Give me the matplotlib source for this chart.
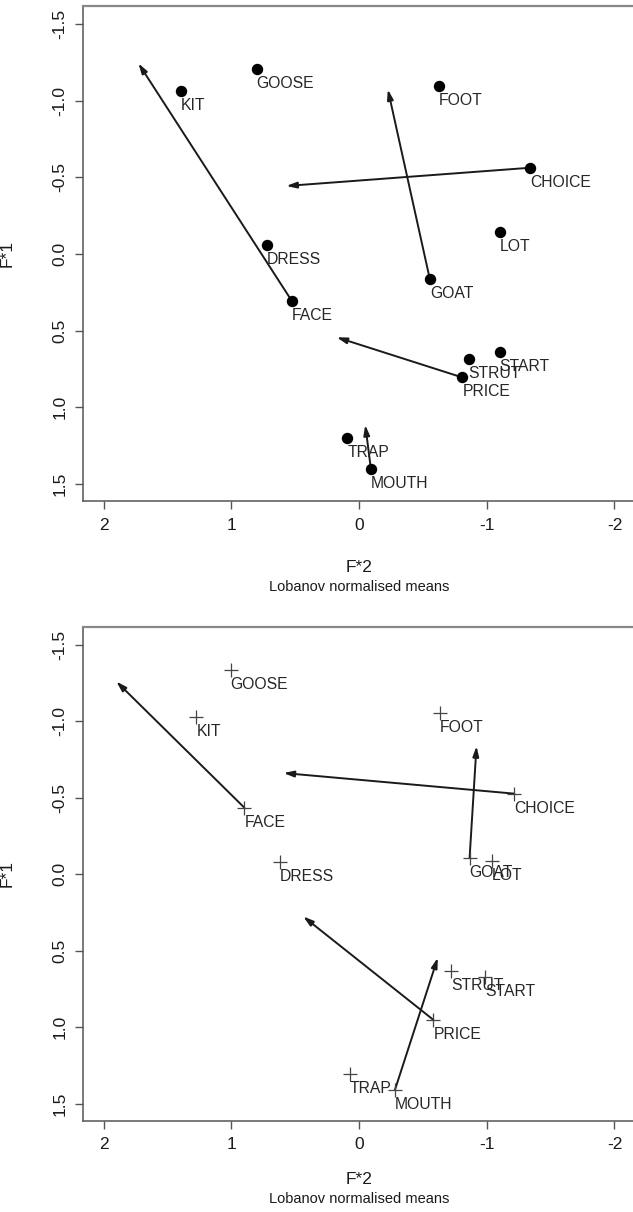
import matplotlib
matplotlib.use("Agg")
import matplotlib.pyplot as plt

plt.rcParams['font.family'] = ['Liberation Sans', 'DejaVu Sans']

words = ["KIT", "GOOSE", "FOOT", "CHOICE", "LOT", "DRESS", "GOAT", "FACE",
         "STRUT", "START", "PRICE", "TRAP", "MOUTH"]

# Panel 1 (filled dots)
f2_top = [1.395, 0.802, -0.623, -1.342, -1.105, 0.720, -0.554, 0.525,
          -0.859, -1.102, -0.809, 0.090, -0.093]
f1_top = [-1.065, -1.207, -1.094, -0.563, -0.141, -0.059, 0.161, 0.307,
          0.683, 0.637, 0.805, 1.202, 1.400]
# diphthong trajectories: start word, end (F*2, F*1)
arr_top_from = ["FACE", "GOAT", "CHOICE", "PRICE", "MOUTH"]
arr_top_end_f2 = [1.727, -0.226, 0.569, 0.175, -0.049]
arr_top_end_f1 = [-1.244, -1.074, -0.444, 0.543, 1.115]

# Panel 2 (crosses)
f2_bot = [1.273, 1.005, -0.636, -1.216, -1.040, 0.620, -0.866, 0.897,
          -0.724, -0.986, -0.582, 0.071, -0.282]
f1_bot = [-1.029, -1.334, -1.055, -0.528, -0.087, -0.078, -0.109, -0.436,
          0.632, 0.672, 0.951, 1.304, 1.408]
arr_bot_from = ["FACE", "CHOICE", "GOAT", "PRICE", "MOUTH"]
arr_bot_end_f2 = [1.900, 0.591, -0.920, 0.437, -0.617]
arr_bot_end_f1 = [-1.262, -0.663, -0.839, 0.275, 0.545]

xticks = [2, 1, 0, -1, -2]
yticks = [-1.5, -1.0, -0.5, 0.0, 0.5, 1.0, 1.5]

fig = plt.figure(figsize=(6.33, 12.12), dpi=100)
W, H = 633, 1212

def make_ax(top_px, bottom_px):
    left_px, right_px = 82.7, 640
    return fig.add_axes([left_px / W, 1 - bottom_px / H,
                         (right_px - left_px) / W, (bottom_px - top_px) / H])

panels = [
    (make_ax(6, 501), f2_top, f1_top, arr_top_from, arr_top_end_f2, arr_top_end_f1, 'dot', (2.163, -2.20), (1.611, -1.618)),
    (make_ax(626.7, 1120.7), f2_bot, f1_bot, arr_bot_from, arr_bot_end_f2, arr_bot_end_f1, 'cross', (2.163, -2.20), (1.611, -1.620)),
]

for ax, xs, ys, afrom, aex, aey, mk, xl, yl in panels:
    ax.set_xlim(*xl)
    ax.set_ylim(*yl)
    if mk == 'dot':
        ax.plot(xs, ys, 'o', color='black', markersize=7.2, linestyle='none', zorder=3)
    else:
        ax.plot(xs, ys, '+', color='#444444', markersize=10, markeredgewidth=0.9,
                linestyle='none', zorder=3)
    for w, x, y in zip(words, xs, ys):
        ax.annotate(w, (x, y), xytext=(0, -5), textcoords='offset points',
                    ha='left', va='top', fontsize=11.3, color='#262626', zorder=4)
    for w, ex, ey in zip(afrom, aex, aey):
        i = words.index(w)
        ax.annotate('', xy=(ex, ey), xytext=(xs[i], ys[i]),
                    arrowprops=dict(arrowstyle='-|>,head_length=0.6,head_width=0.18',
                                    color='#1a1a1a', lw=1.4, shrinkA=0, shrinkB=0,
                                    mutation_scale=10), zorder=2)
    ax.set_xticks(xticks)
    ax.set_xticklabels([str(t) for t in xticks])
    ax.set_yticks(yticks)
    ax.set_yticklabels([f"{t:.1f}" for t in yticks], rotation=90, va='center')
    ax.tick_params(axis='both', direction='out', length=6, width=1, color='#555555',
                   labelsize=12.5, labelcolor='#1a1a1a', pad=6)
    ax.tick_params(axis='y', pad=5)
    for s in ['left', 'bottom', 'top']:
        ax.spines[s].set_color('#555555')
        ax.spines[s].set_linewidth(1.1)
    ax.spines['top'].set_color('#888888')
    ax.spines['top'].set_linewidth(1.6)
    ax.spines['right'].set_visible(False)
    ax.set_xlabel("F*2\n", fontsize=12.5, color='#1a1a1a', labelpad=12)
    ax.set_ylabel("F*1", fontsize=12.5, color='#1a1a1a', labelpad=10)

for top_y, lab_y in [(568, 587), (1180, 1199)]:
    fig.text(359.5 / W, 1 - lab_y / H, "Lobanov normalised means", ha='center',
             va='center', fontsize=10.5, color='#1a1a1a')

for ax in [panels[0][0], panels[1][0]]:
    ax.xaxis.label.set_text("F*2")

# place x labels explicitly to match the reference
panels[0][0].xaxis.set_label_coords((359.5 - 82.7) / (640 - 82.7), -(568 - 501) / (501 - 6))
panels[1][0].xaxis.set_label_coords((359.5 - 82.7) / (640 - 82.7), -(1180 - 1120.7) / (1120.7 - 626.7))
for ax in [panels[0][0], panels[1][0]]:
    ax.xaxis.label.set_va('center')
    ax.yaxis.set_label_coords(-(82.7 - 15) / (640 - 82.7), 0.5)

fig.savefig("out.png", dpi=100, facecolor='white')
